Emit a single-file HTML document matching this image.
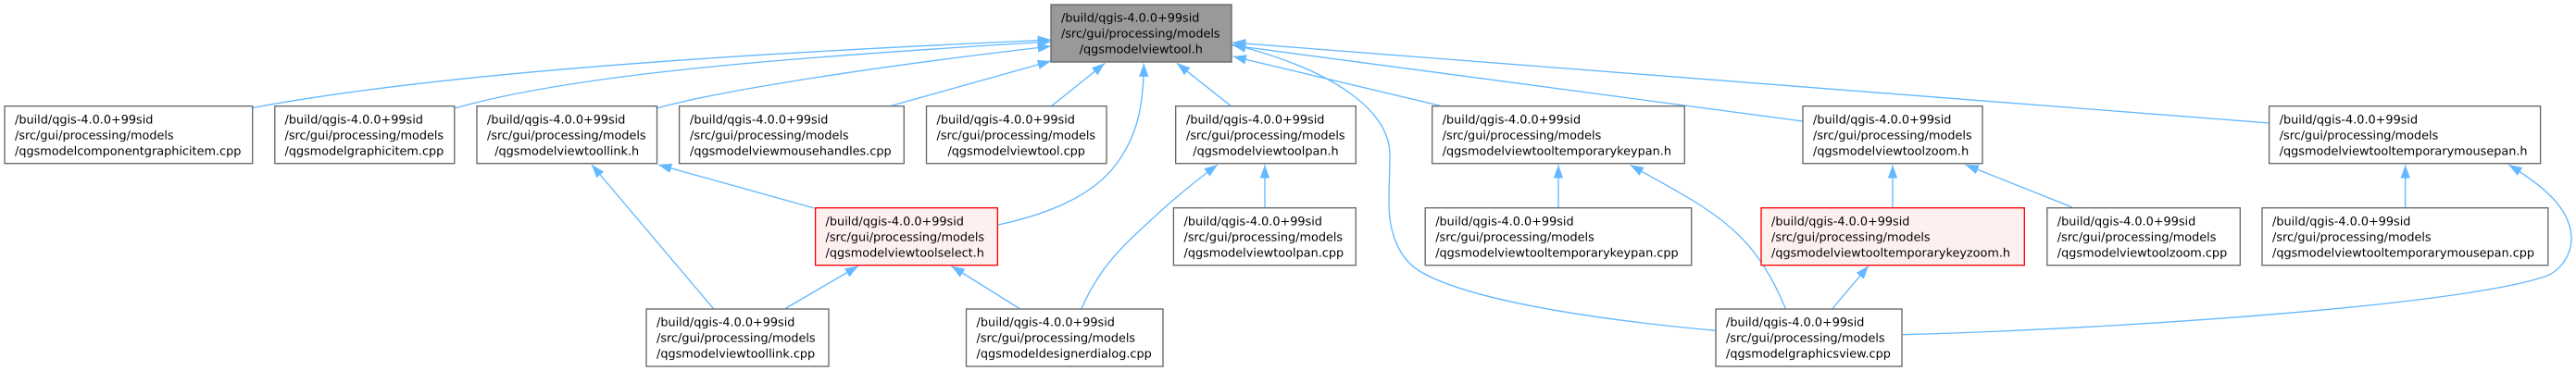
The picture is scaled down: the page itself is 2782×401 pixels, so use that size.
<!DOCTYPE html>
<html><head><meta charset="utf-8"><style>
html,body{margin:0;padding:0;background:#fff}
svg{display:block}
text{font-family:"DejaVu Sans",sans-serif;font-size:12.83px;fill:#000;text-rendering:geometricPrecision}
.n{fill:#fff;stroke:#666;stroke-width:1.33}
.r{fill:#fff0f0;stroke:#f00;stroke-width:1.33}
.e{fill:none;stroke:#63b8ff;stroke-width:1.33;marker-end:url(#a)}
.m{text-anchor:middle}
</style></head><body>
<svg width="2782" height="401" viewBox="0 0 2782 401" xmlns="http://www.w3.org/2000/svg">
<defs><marker id="a" markerUnits="userSpaceOnUse" markerWidth="16" markerHeight="12" refX="14.3" refY="6" orient="auto"><path d="M0,0.8L14.3,6L0,11.2Z" fill="#63b8ff"/></marker></defs>

<path class="e" d="M273,116.5C480,78 800,58 1135,43"/>
<path class="e" d="M491,117C620,80 850,62 1135,45"/>
<path class="e" d="M709.5,117C780,97 960,70 1135,50"/>
<path class="e" d="M960,115L1135,66"/>
<path class="e" d="M1136,114.3L1193.3,68.3"/>
<path class="e" d="M1078,243C1130,232 1180,212 1205,178C1230,145 1235,110 1235.3,68.5"/>
<path class="e" d="M1329,114.3L1271,68.3"/>
<path class="e" d="M1556,114.5L1331.7,61"/>
<path class="e" d="M1947,131L1331,49"/>
<path class="e" d="M2451,133L1331,46"/>
<path class="e" d="M1853,357.3C1740,347 1590,327 1533,293C1510,279 1500,250 1500,220C1500,200 1501,185 1501,167C1501,120 1440,75 1331,48"/>
<path class="e" d="M879.4,225L711,178"/>
<path class="e" d="M770.4,333.5L639,178"/>
<path class="e" d="M848,333.5L927,287.5"/>
<path class="e" d="M1101,333.5L1027.4,287.5"/>
<path class="e" d="M1168,333.5C1185,295 1205,273 1230,250C1255,226 1285,200 1315,178"/>
<path class="e" d="M1366,224.7L1366,178.3"/>
<path class="e" d="M1683,224.7L1683,178.3"/>
<path class="e" d="M1928.4,333.5C1905,278 1880,250 1838,223C1815,208 1795,198 1760.7,178.3"/>
<path class="e" d="M2044,224.7L2044,178.3"/>
<path class="e" d="M2238,224L2122.5,178"/>
<path class="e" d="M1979,333.5L2018,287.3"/>
<path class="e" d="M2597.7,224.7L2597.7,178.3"/>
<path class="e" d="M2055,361.7C2300,355 2650,330 2745,300C2765,295 2777,275 2777,258C2777,225 2745,200 2709.3,178"/>

<rect x="1135" y="5" width="195" height="62" fill="#999" stroke="#666" stroke-width="1.33"/>
<text x="1146" y="23.5">/build/qgis-4.0.0+99sid</text><text x="1146" y="40.5">/src/gui/processing/models</text><text class="m" x="1232.3" y="57.5">/qgsmodelviewtool.h</text>

<rect class="n" x="5" y="114.7" width="267.7" height="62"/>
<text x="16" y="133.3">/build/qgis-4.0.0+99sid</text><text x="16" y="150.3">/src/gui/processing/models</text><text x="16" y="167.3">/qgsmodelcomponentgraphicitem.cpp</text>

<rect class="n" x="296.8" y="114.7" width="194" height="62"/>
<text x="307.5" y="133.3">/build/qgis-4.0.0+99sid</text><text x="307.5" y="150.3">/src/gui/processing/models</text><text x="307.5" y="167.3">/qgsmodelgraphicitem.cpp</text>

<rect class="n" x="515" y="114.7" width="194.5" height="62"/>
<text x="526" y="133.3">/build/qgis-4.0.0+99sid</text><text x="526" y="150.3">/src/gui/processing/models</text><text class="m" x="612.2" y="167.3">/qgsmodelviewtoollink.h</text>

<rect class="n" x="733.6" y="114.7" width="242.7" height="62"/>
<text x="745" y="133.3">/build/qgis-4.0.0+99sid</text><text x="745" y="150.3">/src/gui/processing/models</text><text x="745" y="167.3">/qgsmodelviewmousehandles.cpp</text>

<rect class="n" x="1000.5" y="114.7" width="194.5" height="62"/>
<text x="1011.5" y="133.3">/build/qgis-4.0.0+99sid</text><text x="1011.5" y="150.3">/src/gui/processing/models</text><text class="m" x="1097.7" y="167.3">/qgsmodelviewtool.cpp</text>

<rect class="n" x="1269.7" y="114.7" width="194.6" height="62"/>
<text x="1281" y="133.3">/build/qgis-4.0.0+99sid</text><text x="1281" y="150.3">/src/gui/processing/models</text><text class="m" x="1367" y="167.3">/qgsmodelviewtoolpan.h</text>

<rect class="n" x="1546.7" y="114.7" width="272.6" height="62"/>
<text x="1557.7" y="133.3">/build/qgis-4.0.0+99sid</text><text x="1557.7" y="150.3">/src/gui/processing/models</text><text x="1557.7" y="167.3">/qgsmodelviewtooltemporarykeypan.h</text>

<rect class="n" x="1947" y="114.7" width="194" height="62"/>
<text x="1958" y="133.3">/build/qgis-4.0.0+99sid</text><text x="1958" y="150.3">/src/gui/processing/models</text><text x="1958" y="167.3">/qgsmodelviewtoolzoom.h</text>

<rect class="n" x="2450.6" y="114.7" width="293" height="62"/>
<text x="2461.7" y="133.3">/build/qgis-4.0.0+99sid</text><text x="2461.7" y="150.3">/src/gui/processing/models</text><text x="2461.7" y="167.3">/qgsmodelviewtooltemporarymousepan.h</text>

<rect class="r" x="880.6" y="224.7" width="196.8" height="62"/>
<text x="891.5" y="243.3">/build/qgis-4.0.0+99sid</text><text x="891.5" y="260.3">/src/gui/processing/models</text><text x="891.5" y="277.3">/qgsmodelviewtoolselect.h</text>

<rect class="n" x="1267.4" y="224.7" width="196.9" height="62"/>
<text x="1278.5" y="243.3">/build/qgis-4.0.0+99sid</text><text x="1278.5" y="260.3">/src/gui/processing/models</text><text x="1278.5" y="277.3">/qgsmodelviewtoolpan.cpp</text>

<rect class="n" x="1539.2" y="224.7" width="287.5" height="62"/>
<text x="1550.2" y="243.3">/build/qgis-4.0.0+99sid</text><text x="1550.2" y="260.3">/src/gui/processing/models</text><text x="1550.2" y="277.3">/qgsmodelviewtooltemporarykeypan.cpp</text>

<rect class="r" x="1902" y="224.7" width="284.3" height="62"/>
<text x="1913" y="243.3">/build/qgis-4.0.0+99sid</text><text x="1913" y="260.3">/src/gui/processing/models</text><text x="1913" y="277.3">/qgsmodelviewtooltemporarykeyzoom.h</text>

<rect class="n" x="2210.8" y="224.7" width="208.5" height="62"/>
<text x="2221.8" y="243.3">/build/qgis-4.0.0+99sid</text><text x="2221.8" y="260.3">/src/gui/processing/models</text><text x="2221.8" y="277.3">/qgsmodelviewtoolzoom.cpp</text>

<rect class="n" x="2443" y="224.7" width="308.8" height="62"/>
<text x="2454" y="243.3">/build/qgis-4.0.0+99sid</text><text x="2454" y="260.3">/src/gui/processing/models</text><text x="2454" y="277.3">/qgsmodelviewtooltemporarymousepan.cpp</text>

<rect class="n" x="698" y="334" width="197" height="62"/>
<text x="709" y="352.6">/build/qgis-4.0.0+99sid</text><text x="709" y="369.6">/src/gui/processing/models</text><text x="709" y="386.6">/qgsmodelviewtoollink.cpp</text>

<rect class="n" x="1043.5" y="334" width="212.5" height="62"/>
<text x="1054.5" y="352.6">/build/qgis-4.0.0+99sid</text><text x="1054.5" y="369.6">/src/gui/processing/models</text><text x="1054.5" y="386.6">/qgsmodeldesignerdialog.cpp</text>

<rect class="n" x="1853" y="334" width="201" height="62"/>
<text x="1864" y="352.6">/build/qgis-4.0.0+99sid</text><text x="1864" y="369.6">/src/gui/processing/models</text><text x="1864" y="386.6">/qgsmodelgraphicsview.cpp</text>
</svg>
</body></html>
